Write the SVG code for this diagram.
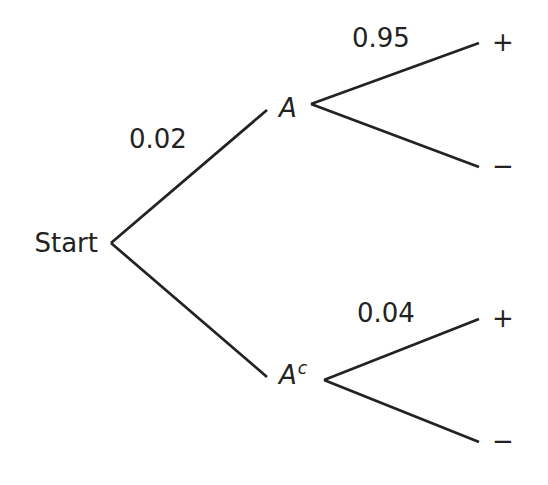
<svg xmlns="http://www.w3.org/2000/svg" width="548" height="485" viewBox="0 0 548 485">
<style>
text{font-family:"DejaVu Sans",sans-serif;font-size:26px;fill:#222}
.it{font-style:italic}
line{stroke:#222;stroke-width:2.7;stroke-linecap:butt}
</style>
<rect width="548" height="485" fill="#fff"/>
<g id="connectors">
<line x1="111" y1="243" x2="267" y2="110"/>
<line x1="111" y1="243" x2="267" y2="377"/>
<line x1="311" y1="104" x2="479" y2="43"/>
<line x1="311" y1="104" x2="479" y2="167"/>
<line x1="324" y1="380" x2="479" y2="319"/>
<line x1="324" y1="380" x2="479" y2="442"/>
</g>
<g id="start"><text x="98" y="252" text-anchor="end">Start</text></g>
<g id="A"><text class="it" x="279" y="117">A</text></g>
<g id="Ac"><text class="it" x="279" y="384">A<tspan font-size="17" dx="1" dy="-10">c</tspan></text></g>
<g id="Aplus"><text x="492" y="51">+</text></g>
<g id="Aminus"><text x="492" y="175">−</text></g>
<g id="Acplus"><text x="492" y="327">+</text></g>
<g id="Acminus"><text x="492" y="450">−</text></g>
<g id="labels">
<text x="129" y="148">0.02</text>
<text x="352" y="47">0.95</text>
<text x="357" y="322">0.04</text>
</g>
</svg>
